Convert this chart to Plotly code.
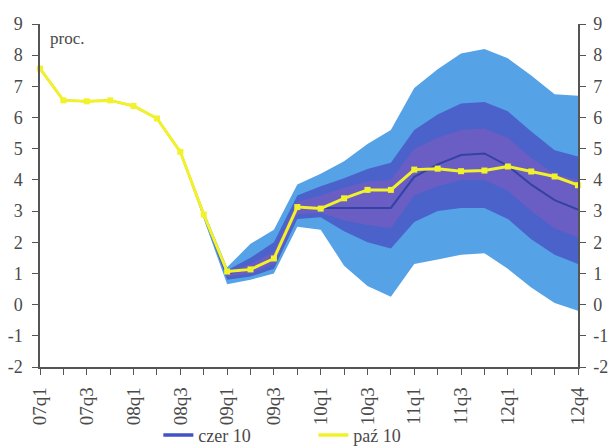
import plotly.graph_objects as go

# Quarters 07q1 .. 12q4
quarters = ["07q1", "07q2", "07q3", "07q4", "08q1", "08q2", "08q3", "08q4",
            "09q1", "09q2", "09q3", "09q4", "10q1", "10q2", "10q3", "10q4",
            "11q1", "11q2", "11q3", "11q4", "12q1", "12q2", "12q3", "12q4"]
labelled = ["07q1", "07q3", "08q1", "08q3", "09q1", "09q3", "10q1", "10q3",
            "11q1", "11q3", "12q1", "12q4"]

# October 2010 projection (central path)
paz10 = [7.57, 6.55, 6.52, 6.55, 6.37, 5.97, 4.9, 2.89, 1.06, 1.13, 1.48, 3.13,
         3.08, 3.41, 3.68, 3.68, 4.33, 4.36, 4.28, 4.3, 4.43, 4.27, 4.11, 3.83]

# June 2010 projection (central path)
czer10 = [7.57, 6.55, 6.52, 6.55, 6.37, 5.97, 4.9, 2.89, 1.0, 1.15, 1.5, 3.1,
          3.1, 3.1, 3.1, 3.1, 4.1, 4.5, 4.8, 4.85, 4.45, 3.85, 3.35, 3.05]

# Fan bands of the June projection, from 08q3 onwards
fan_start = 6
band90_hi = [4.95, 3.0, 1.2, 1.95, 2.4, 3.85, 4.2, 4.6, 5.15, 5.6, 6.95, 7.55, 8.05, 8.2, 7.9, 7.35, 6.75, 6.7]
band90_lo = [4.85, 2.75, 0.65, 0.8, 1.0, 2.5, 2.4, 1.25, 0.6, 0.25, 1.3, 1.45, 1.6, 1.65, 1.15, 0.55, 0.05, -0.2]
band60_hi = [4.92, 2.95, 1.1, 1.5, 2.0, 3.5, 3.8, 4.05, 4.35, 4.55, 5.6, 6.1, 6.45, 6.5, 6.2, 5.55, 4.95, 4.75]
band60_lo = [4.88, 2.8, 0.8, 0.9, 1.15, 2.75, 2.8, 2.35, 2.0, 1.8, 2.65, 3.0, 3.1, 3.1, 2.75, 2.1, 1.6, 1.3]
band30_hi = [4.91, 2.92, 1.05, 1.3, 1.7, 3.3, 3.5, 3.75, 3.95, 4.0, 5.0, 5.35, 5.6, 5.65, 5.35, 4.7, 4.2, 4.0]
band30_lo = [4.89, 2.85, 0.9, 1.0, 1.3, 2.9, 2.95, 2.7, 2.55, 2.45, 3.5, 3.8, 4.0, 4.0, 3.65, 3.0, 2.45, 2.15]

y_ticks = list(range(-2, 10))
y_labels = [str(v) if v >= 0 else "-" + str(-v) for v in y_ticks]

FONT = "Liberation Serif"
GREY = "#4a4a4a"
YELLOW = "#f2f22a"

idx = list(range(len(quarters)))
fan_x = idx[fan_start:]

fig = go.Figure()

bands = [(band90_hi, band90_lo, "#55a2e6"),
         (band60_hi, band60_lo, "#4a62ca"),
         (band30_hi, band30_lo, "#6a5ec4")]
for hi, lo, col in bands:
    fig.add_trace(go.Scatter(
        x=fan_x + fan_x[::-1], y=hi + lo[::-1],
        fill="toself", fillcolor=col, mode="lines",
        line=dict(width=0, color=col), hoverinfo="skip", showlegend=False))

fig.add_trace(go.Scatter(
    x=idx, y=czer10, mode="lines", name="czer 10", showlegend=False,
    line=dict(color="#3442a4", width=2)))

fig.add_trace(go.Scatter(
    x=idx, y=paz10, mode="lines+markers", name="paź 10", showlegend=False,
    line=dict(color=YELLOW, width=3),
    marker=dict(symbol="square", size=6, color=YELLOW),
    cliponaxis=False))

# legend keys drawn as plain thick lines
fig.add_trace(go.Scatter(x=[None], y=[None], mode="lines", name="czer 10",
                         line=dict(color="#4052c4", width=3.5)))
fig.add_trace(go.Scatter(x=[None], y=[None], mode="lines", name="paź 10",
                         line=dict(color=YELLOW, width=3.5)))

fig.add_annotation(x=0.015, y=0.99, xref="paper", yref="paper",
                   text="proc.", showarrow=False, xanchor="left", yanchor="top",
                   font=dict(family=FONT, size=17, color=GREY))

axis_common = dict(showgrid=False, zeroline=False, showline=True,
                   linecolor="#555555", linewidth=1.5,
                   ticks="outside", ticklen=6, tickcolor="#555555", tickwidth=1.3)

fig.update_layout(
    width=608, height=448,
    margin=dict(l=40, r=30, t=24, b=81, autoexpand=False),
    paper_bgcolor="white", plot_bgcolor="white",
    xaxis=dict(range=[0, 23], tickmode="array", tickvals=idx,
               ticktext=[q if q in labelled else "" for q in quarters],
               tickangle=-90, ticklabelstandoff=5,
               tickfont=dict(family=FONT, size=19, color=GREY), **axis_common),
    yaxis=dict(range=[-2, 9], tickmode="array", tickvals=y_ticks,
               ticktext=y_labels, ticklabelstandoff=6,
               tickfont=dict(family=FONT, size=18, color=GREY), **axis_common),
    yaxis2=dict(range=[-2, 9], overlaying="y", side="right", matches="y",
                tickmode="array", tickvals=y_ticks, ticktext=y_labels,
                ticklabelstandoff=4,
                tickfont=dict(family=FONT, size=18, color=GREY), **axis_common),
    legend=dict(orientation="h", x=0.22, y=-0.145, xanchor="left", yanchor="top",
                entrywidth=110, font=dict(family=FONT, size=18, color=GREY),
                bgcolor="rgba(0,0,0,0)", itemwidth=30),
    showlegend=True,
)

# invisible trace so the right-hand axis is drawn
fig.add_trace(go.Scatter(x=[0], y=[0], yaxis="y2", mode="markers",
                         marker=dict(opacity=0), showlegend=False, hoverinfo="skip"))

fig.write_html("out.html")
